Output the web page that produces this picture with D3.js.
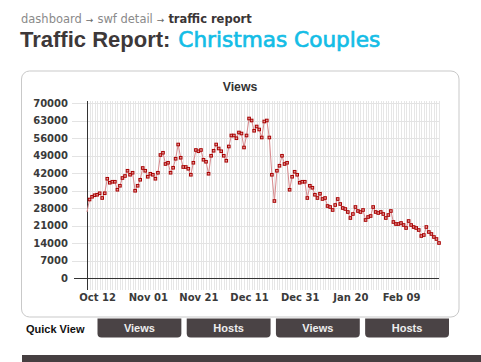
<!DOCTYPE html>
<html>
<head>
<meta charset="utf-8">
<script src="https://cdn.jsdelivr.net/npm/d3@7"></script>
<style>
  html, body { margin: 0; padding: 0; background: #fff; }
  svg { display: block; }
</style>
</head>
<body>
<div id="chart"></div>
<script>
// daily views, Oct 8 2008 .. Feb 24 2009
const startDate = '2008-10-08';
const views = [
    26400, 31400, 32500, 33100, 33300, 33900, 32000, 33900, 39700, 38100,
    38500, 38500, 35300, 36900, 40000, 40800, 42900, 41300, 42100, 34900,
    36900, 39300, 44000, 42900, 40500, 41700, 41300, 39700, 42100, 49200,
    50100, 45600, 46100, 42100, 44100, 47700, 53400, 48100, 44400, 44400,
    43700, 41300, 46100, 51200, 50700, 51200, 47300, 46500, 41700, 48900,
    50900, 53400, 51800, 50700, 48900, 46900, 52600, 57000, 57000, 55900,
    58200, 57800, 52200, 57000, 63800, 63000, 58900, 60600, 59400, 56200,
    62600, 63000, 56200, 41300, 30800, 42900, 44900, 48900, 45600, 46100,
    35300, 40500, 42500, 41300, 38100, 38500, 38500, 32000, 36900, 36100,
    33300, 32000, 33700, 31600, 32000, 28800, 28400, 27200, 29200, 31600,
    29600, 28000, 27600, 26400, 24000, 25600, 28400, 26800, 26400, 27200,
    23200, 24400, 24800, 28400, 26400, 26000, 26400, 25600, 24000, 25200,
    26800, 22400, 21600, 21600, 22000, 21200, 20000, 22800, 21200, 20400,
    20000, 19200, 16800, 17200, 20400, 18400, 17600, 16400, 15600, 14000
];
const xTickDates = ['2008-10-12', '2008-11-01', '2008-11-21', '2008-12-11', '2008-12-31', '2009-01-20', '2009-02-09'];
const yTicks = [0, 7000, 14000, 21000, 28000, 35000, 42000, 49000, 56000, 63000, 70000];
const tabLabels = ['Views', 'Hosts', 'Views', 'Hosts'];

const width = 481;
const height = 362;
const parseDate = d3.timeParse('%Y-%m-%d');
const day0 = parseDate(startDate);
const points = views.map((v, i) => ({ date: d3.timeDay.offset(day0, i), value: v }));

const svg = d3.select('#chart').append('svg')
    .attr('width', width)
    .attr('height', height);

// breadcrumb + heading
const crumb = svg.append('text')
    .attr('x', 21)
    .attr('y', 22.5)
    .attr('font-family', 'DejaVu Sans, Verdana, sans-serif')
    .attr('font-size', 11.5);
crumb.append('tspan').attr('fill', '#8a8a8a').text('dashboard');
crumb.append('tspan').attr('fill', '#666').attr('font-size', 9).attr('dx', 4).text('→');
crumb.append('tspan').attr('fill', '#8a8a8a').attr('dx', 4).text('swf detail');
crumb.append('tspan').attr('fill', '#666').attr('font-size', 9).attr('dx', 4).text('→');
crumb.append('tspan').attr('fill', '#3a3536').attr('font-weight', 'bold').attr('dx', 4).text('traffic report');

const heading = svg.append('text')
    .attr('x', 20)
    .attr('y', 46.5);
heading.append('tspan')
    .attr('font-family', 'Liberation Sans, Arial, sans-serif')
    .attr('font-weight', 'bold')
    .attr('font-size', 22)
    .attr('fill', '#3d3839')
    .text('Traffic Report:');
heading.append('tspan')
    .attr('dx', 8)
    .attr('font-family', 'DejaVu Sans, Verdana, sans-serif')
    .attr('font-size', 21.6)
    .attr('fill', '#14bde6')
    .attr('stroke', '#14bde6')
    .attr('stroke-width', 0.7)
    .text('Christmas Couples');

// chart box
svg.append('rect')
    .attr('x', 21.5)
    .attr('y', 71)
    .attr('width', 437.5)
    .attr('height', 246)
    .attr('rx', 8)
    .attr('fill', '#fff')
    .attr('stroke', '#c9c9c9');

svg.append('text')
    .attr('x', 240)
    .attr('y', 90.7)
    .attr('text-anchor', 'middle')
    .attr('font-family', 'Liberation Sans, Arial, sans-serif')
    .attr('font-weight', 'bold')
    .attr('font-size', 12.3)
    .attr('fill', '#333')
    .text('Views');

// scales
const x = d3.scaleTime()
    .domain([points[0].date, points[points.length - 1].date])
    .range([87, 439]);
const y = d3.scaleLinear()
    .domain([0, 70000])
    .range([278, 103]);

// vertical day grid
svg.append('g')
    .attr('stroke', '#e6e6e6')
    .attr('stroke-width', 1)
    .selectAll('line')
    .data(points)
    .join('line')
    .attr('x1', d => Math.round(x(d.date)) + 0.5)
    .attr('x2', d => Math.round(x(d.date)) + 0.5)
    .attr('y1', 101)
    .attr('y2', 290);

// horizontal grid
svg.append('g')
    .attr('stroke', '#e3e3e3')
    .selectAll('line')
    .data(yTicks.filter(d => d > 0))
    .join('line')
    .attr('x1', 72)
    .attr('x2', 439)
    .attr('y1', d => Math.round(y(d)) + 0.5)
    .attr('y2', d => Math.round(y(d)) + 0.5);

// axes
const yAxis = d3.axisLeft(y)
    .tickValues(yTicks)
    .tickFormat(d3.format('d'))
    .tickSize(0)
    .tickPadding(0);
svg.append('g')
    .attr('transform', 'translate(68,0)')
    .call(yAxis)
    .call(g => g.select('.domain').remove())
    .call(g => g.selectAll('text')
        .attr('font-family', 'DejaVu Sans, Verdana, sans-serif')
        .attr('font-weight', 'bold')
        .attr('font-size', 10)
        .attr('fill', '#3a3a3a'));

const xAxis = d3.axisBottom(x)
    .tickValues(xTickDates.map(parseDate))
    .tickFormat(d3.timeFormat('%b %d'))
    .tickSize(0)
    .tickPadding(0);
svg.append('g')
    .attr('transform', 'translate(0,294)')
    .call(xAxis)
    .call(g => g.select('.domain').remove())
    .call(g => g.selectAll('text')
        .attr('font-family', 'DejaVu Sans, Verdana, sans-serif')
        .attr('font-weight', 'bold')
        .attr('font-size', 10)
        .attr('fill', '#3a3a3a'));

svg.append('line')
    .attr('x1', 87.5).attr('x2', 87.5)
    .attr('y1', 101).attr('y2', 290)
    .attr('stroke', '#333');
svg.append('line')
    .attr('x1', 74).attr('x2', 439)
    .attr('y1', 278.5).attr('y2', 278.5)
    .attr('stroke', '#333');

// series
const line = d3.line()
    .x(d => x(d.date))
    .y(d => y(d.value));

svg.append('path')
    .datum(points)
    .attr('fill', 'none')
    .attr('stroke', '#d98a8e')
    .attr('stroke-width', 1)
    .attr('d', line);

// first day sits on the axis without a visible marker
svg.append('g')
    .selectAll('rect')
    .data(points.slice(1))
    .join('rect')
    .attr('x', d => x(d.date) - 1.3)
    .attr('y', d => y(d.value) - 1.3)
    .attr('width', 2.6)
    .attr('height', 2.6)
    .attr('fill', '#e49a9a')
    .attr('stroke', '#a80000')
    .attr('stroke-width', 1);

// tabs under the chart
svg.append('text')
    .attr('x', 26)
    .attr('y', 333)
    .attr('font-family', 'Liberation Sans, Arial, sans-serif')
    .attr('font-weight', 'bold')
    .attr('font-size', 11)
    .attr('fill', '#111')
    .text('Quick View');

const tabX = d3.scaleBand()
    .domain(d3.range(tabLabels.length))
    .range([97.5, 449])
    .paddingInner(0.06);

function tabPath(x0, y0, w, h, r) {
    return `M${x0},${y0}H${x0 + w}V${y0 + h - r}Q${x0 + w},${y0 + h} ${x0 + w - r},${y0 + h}` +
        `H${x0 + r}Q${x0},${y0 + h} ${x0},${y0 + h - r}Z`;
}

const tabs = svg.append('g')
    .selectAll('g')
    .data(tabLabels)
    .join('g');
tabs.append('path')
    .attr('d', (d, i) => tabPath(tabX(i), 318.5, tabX.bandwidth(), 19, 4))
    .attr('fill', '#4a4345');
tabs.append('text')
    .attr('x', (d, i) => tabX(i) + tabX.bandwidth() / 2)
    .attr('y', 332.3)
    .attr('text-anchor', 'middle')
    .attr('font-family', 'Liberation Sans, Arial, sans-serif')
    .attr('font-weight', 'bold')
    .attr('font-size', 11)
    .attr('fill', '#eeeeee')
    .text(d => d);

// dark strip at the bottom
svg.append('rect')
    .attr('x', 22)
    .attr('y', 355)
    .attr('width', 459)
    .attr('height', 7)
    .attr('fill', '#463f41');
</script>
</body>
</html>
